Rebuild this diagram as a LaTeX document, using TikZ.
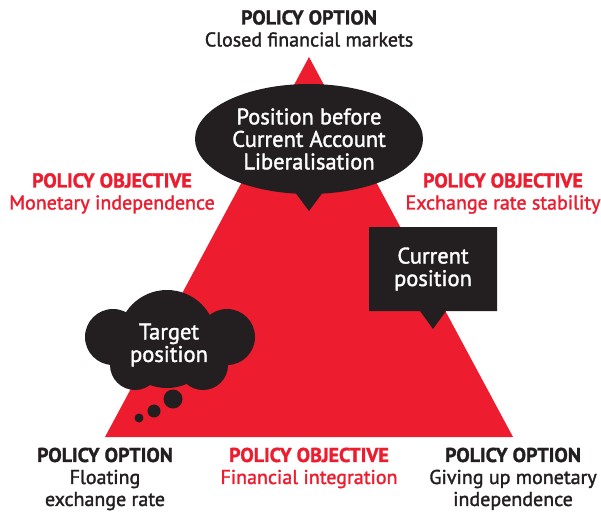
\documentclass[tikz,border=0pt]{standalone}
\usepackage{fontspec}
\setmainfont{PT Sans}
\newfontfamily\medfont[FakeBold=1.6]{PT Sans}
\usetikzlibrary{shapes.callouts,positioning}

\definecolor{trired}{HTML}{ED1C2E}
\definecolor{triblack}{HTML}{231F20}

\tikzset{
	label/.style={align=center, inner sep=0pt, anchor=north, text=triblack,
		font=\fontsize{20}{22}\selectfont\medfont},
	objective/.style={label, text=trired},
	bubble/.style={fill=triblack, text=white, align=center, inner sep=0pt,
		font=\fontsize{22.5}{22.5}\selectfont\medfont},
	puff/.style={fill=triblack},
}

\begin{document}
\begin{tikzpicture}[x=1pt, y=-1pt]
	\useasboundingbox (0,0) rectangle (601,511);

	% corners of the trilemma
	\coordinate (apex) at (309,57);
	\coordinate (left) at (105,437);
	\coordinate (right) at (513,437);
	\fill[trired] (apex) -- (right) -- (left) -- cycle;

	% policy options at the corners
	\node[label] (closed) at (309,10) {{\bfseries POLICY OPTION}\\Closed financial markets};
	\node[label] (floating) at (105,447.5) {{\bfseries POLICY OPTION}\\Floating\\exchange rate};
	\node[label] (givingup) at (513,447.5) {{\bfseries POLICY OPTION}\\Giving up monetary\\independence};

	% policy objectives along the sides
	\node[objective] (monetary) at (112,173) {{\bfseries POLICY OBJECTIVE}\\Monetary independence};
	\node[objective] (stability) at (503,173) {{\bfseries POLICY OBJECTIVE}\\Exchange rate stability};
	\node[objective] (integration) at (309,447.5) {{\bfseries POLICY OBJECTIVE}\\Financial integration};

	% speech callouts
	\coordinate (beforetip) at (309,211);
	\coordinate (nowtip) at (433,329);

	\node[bubble, ellipse callout, minimum width=228pt, minimum height=110pt,
		callout absolute pointer={(beforetip)}, callout pointer arc=13] (before)
		at (309,139) {Position before\\Current Account\\Liberalisation};
	\node[bubble, rectangle callout, minimum width=128pt, minimum height=84pt,
		callout absolute pointer={(nowtip)}, callout pointer width=26pt] (now)
		at (433,269) {Current\\position};

	% thought cloud, built from overlapping puffs
	\fill[puff] (167,339) circle (49) (113,337) circle (28) (227,337) circle (28)
		(135,365) circle (25) (203,365) circle (25);
	\node[bubble, fill=none] (target) at (169,345) {Target\\position};
	\node[puff, circle, minimum size=19pt, inner sep=0pt] (dot1) at (173,399) {};
	\node[puff, circle, minimum size=13pt, inner sep=0pt] (dot2) at (154,411) {};
	\node[puff, circle, minimum size=9pt, inner sep=0pt] (dot3) at (139,418) {};
\end{tikzpicture}
\end{document}
